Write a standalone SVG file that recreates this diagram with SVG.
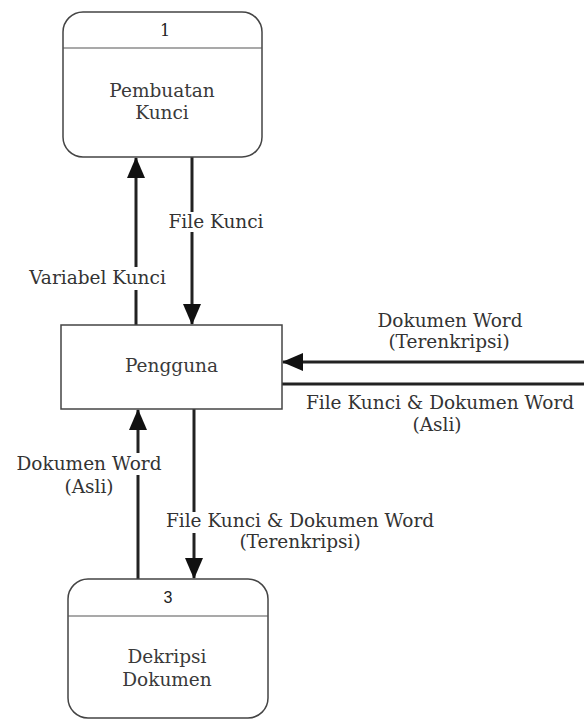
<svg xmlns="http://www.w3.org/2000/svg" width="584" height="719" viewBox="0 0 584 719">
<style>
  .node { fill: #ffffff; stroke: #444; stroke-width: 1.5; }
  .div { stroke: #555; stroke-width: 1.2; }
  .ntext { font-family: "DejaVu Serif", "Liberation Serif", serif; font-size: 18.5px; fill: #3a3a3a; text-anchor: middle; }
  .num { font-family: "DejaVu Serif", "Liberation Serif", serif; font-size: 16px; fill: #222; text-anchor: middle; }
  .num3 { font-family: "Liberation Sans", Arial, sans-serif; font-size: 16px; fill: #222; text-anchor: middle; }
  .flow { stroke: #222; stroke-width: 3; fill: none; }
  .ltext { font-family: "DejaVu Serif", "Liberation Serif", serif; font-size: 18.5px; fill: #333; text-anchor: middle; }
  .bg { fill: #ffffff; }
</style>
<defs>
  <marker id="arrow" markerUnits="userSpaceOnUse" markerWidth="24" markerHeight="20" refX="20" refY="9" orient="auto">
    <path d="M0,0 L21,9 L0,18 z" fill="#111"/>
  </marker>
</defs>

<g id="connectors">
  <line class="flow" x1="136" y1="325" x2="136" y2="158" marker-end="url(#arrow)"/>
  <line class="flow" x1="192" y1="157" x2="192" y2="324" marker-end="url(#arrow)"/>
  <line class="flow" x1="584" y1="362" x2="283" y2="362" marker-end="url(#arrow)"/>
  <line class="flow" x1="282" y1="384" x2="584" y2="384"/>
  <line class="flow" x1="138" y1="579" x2="138" y2="410" marker-end="url(#arrow)"/>
  <line class="flow" x1="194" y1="409" x2="194" y2="578" marker-end="url(#arrow)"/>
</g>

<g id="labels">
  <g id="label-file-kunci">
    <rect class="bg" x="184" y="212" width="16" height="20"/>
    <text class="ltext" x="216" y="228">File Kunci</text>
  </g>
  <g id="label-variabel-kunci">
    <rect class="bg" x="128" y="267" width="16" height="23"/>
    <text class="ltext" x="97.5" y="284">Variabel Kunci</text>
  </g>
  <g id="label-dokumen-terenkripsi">
    <text class="ltext" x="450" y="327">Dokumen Word</text>
    <text class="ltext" x="449" y="348">(Terenkripsi)</text>
  </g>
  <g id="label-file-kunci-asli">
    <text class="ltext" x="440" y="409">File Kunci &amp; Dokumen Word</text>
    <text class="ltext" x="437" y="431">(Asli)</text>
  </g>
  <g id="label-dokumen-asli">
    <rect class="bg" x="130" y="453" width="16" height="22"/>
    <text class="ltext" x="89" y="470">Dokumen Word</text>
    <text class="ltext" x="89" y="493">(Asli)</text>
  </g>
  <g id="label-file-kunci-terenkripsi">
    <rect class="bg" x="186" y="512" width="16" height="21"/>
    <text class="ltext" x="300" y="527">File Kunci &amp; Dokumen Word</text>
    <text class="ltext" x="300" y="548">(Terenkripsi)</text>
  </g>
</g>

<g id="node-1">
  <rect class="node" x="63" y="12" width="199" height="145" rx="20" ry="20"/>
  <line class="div" x1="63" y1="48" x2="262" y2="48"/>
  <text class="num" x="165" y="36">1</text>
  <text class="ntext" x="162" y="97">Pembuatan</text>
  <text class="ntext" x="162" y="119">Kunci</text>
</g>

<g id="node-pengguna">
  <rect class="node" x="61" y="325" width="221" height="84"/>
  <text class="ntext" x="171.5" y="372">Pengguna</text>
</g>

<g id="node-3">
  <rect class="node" x="68" y="579" width="200" height="139" rx="20" ry="20"/>
  <line class="div" x1="68" y1="616" x2="268" y2="616"/>
  <text class="num3" x="168" y="603">3</text>
  <text class="ntext" x="167" y="663">Dekripsi</text>
  <text class="ntext" x="167" y="686">Dokumen</text>
</g>
</svg>
